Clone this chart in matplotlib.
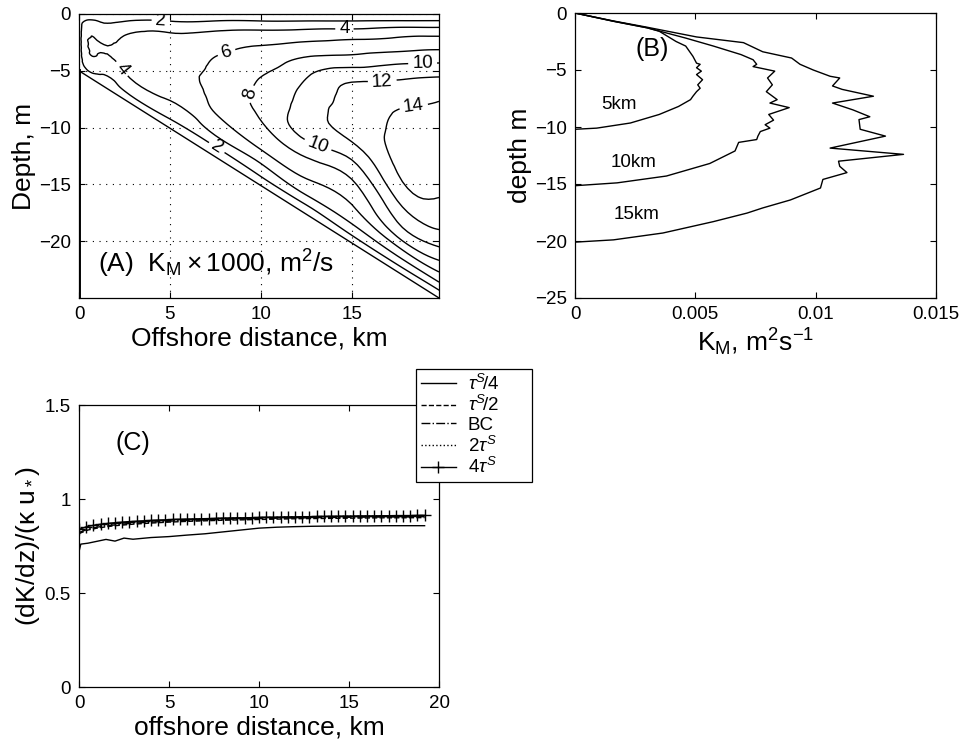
import numpy as np
import matplotlib
matplotlib.use('Agg')
import matplotlib.pyplot as plt
from matplotlib.tri import Triangulation, UniformTriRefiner

plt.rcParams['font.family'] = ['Liberation Sans', 'DejaVu Sans']
plt.rcParams['mathtext.fontset'] = 'custom'
plt.rcParams['mathtext.rm'] = 'Liberation Sans'
plt.rcParams['mathtext.it'] = 'Liberation Sans:italic'
plt.rcParams['mathtext.bf'] = 'Liberation Sans:bold'
plt.rcParams['axes.unicode_minus'] = True

# ---------------- Panel A data: K_M x 1000 on sigma levels ----------------
sigma_levels = [0, 0.02, 0.05, 0.1, 0.15, 0.2, 0.3, 0.4, 0.5, 0.6, 0.7, 0.8, 0.85, 0.9, 0.95, 0.98, 1.0]
col_x = [0, 0.3, 1, 2.5, 5, 7.5, 10, 12.5, 15, 17.5, 19.8]
col_depth = [5.0, 5.3, 6.0, 7.5, 10.0, 12.5, 15.0, 17.5, 20.0, 22.5, 24.8]
k_00 = [0, 0.4, 0.7, 0.9, 1.0, 1.0, 1.0, 1.0, 1.0, 1.0, 1.0, 1.0, 0.9, 0.8, 0.6, 0.3, 0]
k_03 = [0, 0.35, 0.9, 1.8, 2.4, 2.7, 3.0, 3.2, 3.2, 3.1, 2.9, 2.5, 2.2, 1.8, 1.0, 0.4, 0]
k_10 = [0, 0.4, 1.0, 2.0, 2.4, 2.8, 3.5, 4.1, 4.25, 4.0, 3.5, 2.8, 2.3, 1.8, 1.0, 0.4, 0]
k_25 = [0, 0.5, 1.25, 2.25, 2.9, 3.5, 4.4, 4.9, 5.0, 4.5, 3.85, 2.9, 2.5, 2.05, 1.1, 0.45, 0]
k_50 = [0, 0.67, 1.67, 2.8, 3.8, 4.3, 5.0, 5.2, 5.3, 5.2, 4.6, 3.6, 3.0, 2.4, 1.4, 0.6, 0]
k_75 = [0, 0.85, 2.05, 3.5, 4.65, 5.2, 6.0, 6.5, 6.8, 6.4, 6.0, 4.7, 4.1, 2.9, 1.6, 0.7, 0]
k_100 = [0, 1.0, 2.4, 4.15, 5.3, 6.25, 7.4, 8.15, 8.4, 8.2, 7.3, 5.9, 4.7, 3.45, 2.1, 1.0, 0]
k_125 = [0, 1.15, 2.8, 4.8, 6.3, 7.6, 9.7, 10.6, 11.0, 10.6, 8.5, 6.5, 5.6, 4.35, 2.5, 1.0, 0]
k_150 = [0, 1.33, 3.15, 5.55, 7.15, 8.7, 12.0, 12.7, 12.8, 11.1, 8.6, 6.7, 5.8, 4.7, 3.1, 1.6, 0]
k_175 = [0, 1.5, 3.85, 6.3, 8.1, 10.15, 12.9, 14.2, 14.5, 14.2, 12.7, 10.3, 8.9, 6.5, 3.8, 2.0, 0]
k_198 = [0, 1.7, 4.2, 6.9, 9.0, 11.1, 13.85, 15.0, 15.2, 14.6, 13.3, 11.0, 9.0, 6.8, 4.1, 2.0, 0]
contour_levels = [2, 4, 6, 8, 10, 12, 14]
bottom_x = [0, 19.8]
bottom_depth = [5.0, 25.0]

# ---------------- Panel B data: K_M profiles ----------------
k5_K = [0, 1.6, 3.0, 3.5, 4.2, 4.6, 4.9, 5.05, 5.2, 5.05, 5.25, 5.05, 5.3, 5.1, 5.2, 5.05, 4.9, 4.8, 4.3, 3.5, 2.3, 0.9, 0]
k5_z = [0, -0.73, -1.3, -1.6, -2.5, -2.9, -3.8, -4.4, -4.5, -4.8, -5.1, -5.4, -5.85, -6.3, -6.6, -6.9, -7.3, -7.6, -8.2, -8.9, -9.65, -10.1, -10.2]
k10_K = [0, 1.6, 3.0, 4.6, 5.75, 6.9, 7.4, 7.55, 7.4, 8.3, 8.0, 8.2, 7.95, 8.4, 8.1, 8.9, 8.05, 8.25, 7.9, 8.1, 7.7, 7.6, 7.55, 6.8, 6.65, 5.6, 3.8, 1.75, 0]
k10_z = [0, -0.72, -1.3, -2.2, -2.9, -3.65, -4.1, -4.5, -4.7, -5.1, -5.7, -6.3, -6.9, -7.6, -7.9, -8.3, -8.9, -9.4, -9.8, -10.1, -10.4, -10.8, -11.1, -11.35, -12.1, -13.2, -14.3, -14.9, -15.15]
k15_K = [0, 1.6, 3.0, 5.05, 7.0, 7.8, 9.0, 9.35, 9.9, 10.6, 11.0, 10.7, 11.1, 12.4, 10.7, 11.55, 12.25, 11.8, 11.85, 12.9, 10.6, 13.65, 10.95, 11.0, 11.3, 10.3, 10.2, 8.95, 7.8, 7.15, 5.75, 3.65, 1.6, 0]
k15_z = [0, -0.7, -1.25, -2.1, -2.6, -3.4, -3.95, -4.5, -5.0, -5.55, -5.7, -6.4, -6.7, -7.3, -7.9, -8.5, -9.1, -9.35, -10.2, -10.8, -11.85, -12.4, -13.0, -13.45, -14.0, -14.6, -15.35, -16.4, -17.1, -17.55, -18.3, -19.3, -19.9, -20.1]
profile_names = ['5km', '10km', '15km']

# ---------------- Panel C data ----------------
xc = [0, 0.1, 0.5, 1, 1.5, 2, 2.5, 3, 4, 5, 6, 7, 8, 9, 10, 11, 12, 13, 14, 15, 16, 17, 18, 19.2]
c_tau_quarter = [0.72, 0.76, 0.765, 0.775, 0.785, 0.776, 0.792, 0.786, 0.795, 0.800, 0.808, 0.815, 0.825, 0.835, 0.845, 0.850, 0.853, 0.855, 0.856, 0.857, 0.857, 0.858, 0.858, 0.858]
c_tau_half = [0.815, 0.82, 0.835, 0.845, 0.852, 0.858, 0.862, 0.866, 0.872, 0.877, 0.881, 0.884, 0.887, 0.889, 0.891, 0.893, 0.895, 0.896, 0.897, 0.898, 0.899, 0.900, 0.900, 0.901]
c_bc = [0.82, 0.825, 0.84, 0.85, 0.857, 0.862, 0.867, 0.871, 0.877, 0.882, 0.886, 0.889, 0.892, 0.894, 0.896, 0.898, 0.900, 0.901, 0.902, 0.903, 0.904, 0.905, 0.905, 0.906]
c_tau_double = [0.825, 0.83, 0.845, 0.855, 0.862, 0.867, 0.872, 0.876, 0.882, 0.887, 0.891, 0.894, 0.897, 0.899, 0.901, 0.903, 0.905, 0.906, 0.907, 0.908, 0.909, 0.910, 0.910, 0.911]
x4 = [0.0, 0.4, 0.8, 1.2, 1.6, 2.0, 2.4, 2.8, 3.2, 3.6, 4.0, 4.4, 4.8, 5.2, 5.6, 6.0, 6.4, 6.8, 7.2, 7.6,
      8.0, 8.4, 8.8, 9.2, 9.6, 10.0, 10.4, 10.8, 11.2, 11.6, 12.0, 12.4, 12.8, 13.2, 13.6, 14.0, 14.4, 14.8,
      15.2, 15.6, 16.0, 16.4, 16.8, 17.2, 17.6, 18.0, 18.4, 18.8, 19.2]
c_tau_quad = [0.838, 0.852, 0.860, 0.866, 0.870, 0.874, 0.877, 0.880, 0.882, 0.884, 0.886, 0.888, 0.889, 0.891,
              0.892, 0.893, 0.894, 0.895, 0.896, 0.897, 0.898, 0.899, 0.900, 0.900, 0.901, 0.902, 0.903, 0.903,
              0.904, 0.905, 0.905, 0.906, 0.906, 0.907, 0.907, 0.908, 0.908, 0.909, 0.909, 0.910, 0.910, 0.910,
              0.911, 0.911, 0.912, 0.912, 0.912, 0.913, 0.913]
legend_labels = [r'$\tau^S\!/4$', r'$\tau^S\!/2$', 'BC', r'$2\tau^S$', r'$4\tau^S$']

# ---------------- figure ----------------
W, H = 963, 751
fig = plt.figure(figsize=(W / 100, H / 100), dpi=100)

def px_axes(l, t, r, b):
    return fig.add_axes([l / W, 1 - b / H, (r - l) / W, (b - t) / H])

axA = px_axes(79, 14, 439, 298)
axB = px_axes(575, 13, 936, 298)
axC = px_axes(79, 405, 439, 687)

TICK = 13.5
LAB = 19

def style(ax):
    ax.tick_params(direction='in', length=4, width=0.8, top=True, right=True,
                   labelsize=TICK, pad=6)
    for s in ax.spines.values():
        s.set_linewidth(0.9)

# Panel A: smooth the tabulated field on a (x, sigma) triangulation
sig = np.array(sigma_levels)
cx = np.array(col_x)
ny, nx = len(sig), len(cx)
Kgrid = np.column_stack([k_00, k_03, k_10, k_25, k_50, k_75, k_100, k_125, k_150, k_175, k_198])
XX = np.tile(cx, (ny, 1))
SS = np.tile(sig[:, None], (1, nx))
tris = []
for i in range(ny - 1):
    for j in range(nx - 1):
        a = i * nx + j
        b, c = a + 1, a + nx
        d = c + 1
        tris += [[a, b, d], [a, d, c]]
tri_n = Triangulation(XX.ravel() / cx.max(), SS.ravel(), triangles=np.array(tris))
tri_f, K_f = UniformTriRefiner(tri_n).refine_field(Kgrid.ravel(), subdiv=3)
xf = tri_f.x * cx.max()
zf = -tri_f.y * np.interp(xf, cx, col_depth)
tri_p = Triangulation(xf, zf, triangles=tri_f.triangles)
cs = axA.tricontour(tri_p, K_f, levels=contour_levels, colors='k', linewidths=1.0)
axA.clabel(cs, fmt='%d', fontsize=TICK, inline=True, inline_spacing=4,
           manual=[(4.5, -0.6), (7.6, -11.7), (14.6, -1.25), (2.3, -4.9), (8.1, -3.3),
                   (9.9, -7.4), (18.9, -4.4), (13.1, -11.7), (16.7, -7.2), (18.5, -10.0)])
axA.plot(bottom_x, [-d for d in bottom_depth], color='k', lw=1.0)
axA.plot([bottom_x[0], bottom_x[0]], [-bottom_depth[0], -bottom_depth[1]], color='k', lw=2.8)
axA.set_xlim(0, 19.8)
axA.set_ylim(-25, 0)
axA.set_xticks([0, 5, 10, 15])
axA.set_yticks([-20, -15, -10, -5, 0])
axA.grid(True, color='k', linestyle=(0, (1, 5)), linewidth=0.8)
axA.set_xlabel('Offshore distance, km', fontsize=LAB, labelpad=2)
axA.set_ylabel('Depth, m', fontsize=LAB, labelpad=2)
axA.text(1.05, -22.8, r'(A)  K$_\mathrm{M}\times$1000, m$^2$/s', fontsize=LAB, ha='left', va='baseline')
style(axA)

# Panel B
for K, z in [(k5_K, k5_z), (k10_K, k10_z), (k15_K, k15_z)]:
    axB.plot(np.array(K) * 1e-3, z, color='k', lw=1.0)
label_pos = [(0.0011, -8.0), (0.0015, -13.1), (0.0016, -17.7)]
for name, (xx, yy) in zip(profile_names, label_pos):
    axB.text(xx, yy, name, fontsize=TICK, ha='left', va='center')
axB.text(0.0025, -3.2, '(B)', fontsize=18, ha='left', va='center')
axB.set_xlim(0, 0.015)
axB.set_ylim(-25, 0)
axB.set_xticks([0, 0.005, 0.01, 0.015])
axB.set_xticklabels(['0', '0.005', '0.01', '0.015'])
axB.set_yticks([-25, -20, -15, -10, -5, 0])
axB.set_xlabel(r'K$_\mathrm{M}$, m$^2$s$^{-1}$', fontsize=LAB, labelpad=2)
axB.set_ylabel('depth m', fontsize=LAB, labelpad=2)
style(axB)

# Panel C
axC.plot(xc, c_tau_quarter, color='k', lw=1.0, ls='-', label=legend_labels[0])
axC.plot(xc, c_tau_half, color='k', lw=1.0, ls='--', label=legend_labels[1])
axC.plot(xc, c_bc, color='k', lw=1.0, ls='-.', label=legend_labels[2])
axC.plot(xc, c_tau_double, color='k', lw=1.0, ls=':', label=legend_labels[3])
axC.plot(x4, c_tau_quad, color='k', lw=1.0, ls='-', marker='+', markersize=9, mew=1.0,
         label=legend_labels[4])
axC.set_xlim(0, 20)
axC.set_ylim(0, 1.5)
axC.set_xticks([0, 5, 10, 15, 20])
axC.set_yticks([0, 0.5, 1, 1.5])
axC.set_yticklabels(['0', '0.5', '1', '1.5'])
axC.set_xlabel('offshore distance, km', fontsize=LAB, labelpad=2)
axC.set_ylabel(r'(dK/dz)/($\mathrm{\kappa}$ u$_*$)', fontsize=LAB, labelpad=2)
axC.text(2.0, 1.30, '(C)', fontsize=18, ha='left', va='center')
leg = axC.legend(loc='upper left', bbox_to_anchor=(0.936, 0.72, 0.322, 0.408), mode='expand',
                 borderaxespad=0, fancybox=False, edgecolor='k', framealpha=1, fontsize=13.5,
                 handlelength=1.9, labelspacing=0.08, borderpad=0.25, handletextpad=0.6)
leg.get_frame().set_linewidth(0.9)
style(axC)

fig.savefig('out.png', dpi=100)
